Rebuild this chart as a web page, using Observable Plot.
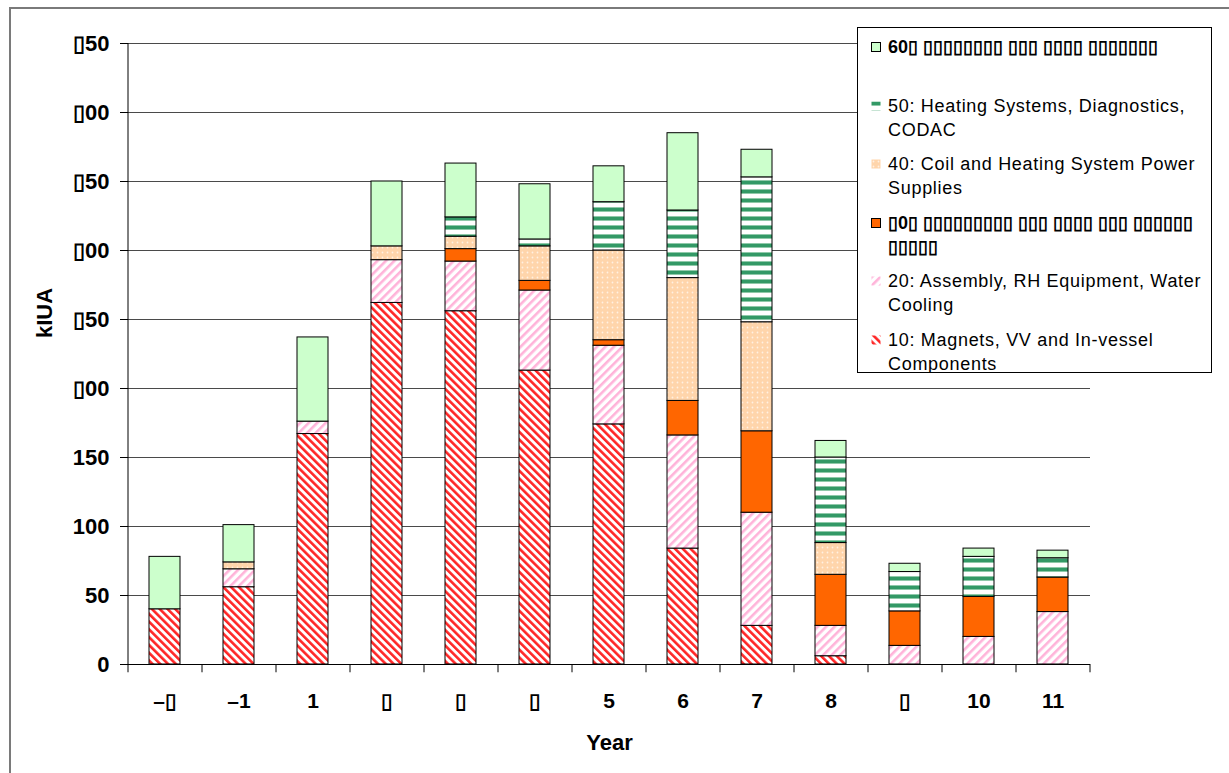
<!DOCTYPE html>
<html>
<head>
<meta charset="utf-8">
<script src="https://cdn.jsdelivr.net/npm/d3@7"></script>
<script src="https://cdn.jsdelivr.net/npm/@observablehq/plot@0.6"></script>
<style>
  html, body { margin: 0; padding: 0; background: #fff; overflow: hidden; }
  #wrap { position: relative; width: 1229px; height: 773px; overflow: hidden; font-family: "Liberation Sans", Arial, sans-serif; }
  #chart { position: absolute; left: 0; top: 0; }
  #border { position: absolute; left: 9px; top: 7px; width: 1300px; height: 900px; border: 2px solid #7a7a7a; pointer-events: none; box-sizing: border-box; }
  #legend { position: absolute; left: 857px; top: 27px; width: 355px; height: 346px; border: 1px solid #000; background: #fff; box-sizing: border-box; overflow: hidden; }
  .item { position: absolute; left: 0; width: 400px; font-size: 18px; line-height: 24px; color: #000; white-space: pre; }
  .item .txt { position: absolute; left: 30px; top: 0; letter-spacing: 0.7px; }
  .item svg { position: absolute; left: 13px; top: 7px; }
  .bold { font-weight: bold; letter-spacing: 0 !important; }
</style>
</head>
<body>
<div id="wrap">
  <div id="chart"></div>
  <div id="legend"></div>
  <div id="border"></div>
</div>
<script>
// ---- data ----
const years = ["-2", "-1", "1", "2", "3", "4", "5", "6", "7", "8", "9", "10", "11"];
const yearLabels = ["–▯", "–1", "1", "▯", "▯", "▯", "5", "6", "7", "8", "▯", "10", "11"];
const yTicks = [0, 50, 100, 150, 200, 250, 300, 350, 400, 450];
const yTickLabels = ["0", "50", "100", "150", "▯00", "▯50", "▯00", "▯50", "▯00", "▯50"];

const seriesKeys = ["10", "20", "30", "40", "50", "60"];
const s10 = [40, 56, 167, 262, 256, 213, 174, 84, 28, 6, 0, 0, 0];
const s20 = [0, 13, 9, 31, 36, 58, 57, 82, 82, 22, 13.5, 20, 38];
const s30 = [0, 0, 0, 0, 9, 7, 4, 25, 59, 37, 25, 29, 25];
const s40 = [0, 5, 0, 10, 9, 25, 65, 89, 79, 23, 0, 0, 0];
const s50 = [0, 0, 0, 0, 14, 5, 35, 49, 105, 62, 28.5, 29, 14];
const s60 = [38, 27, 61, 47, 39, 40, 26, 56, 20, 12, 6, 6, 5.5];
const seriesValues = [s10, s20, s30, s40, s50, s60];

const legendLabels = [
  "10: Magnets, VV and In-vessel\nComponents",
  "20: Assembly, RH Equipment, Water\nCooling",
  "▯0▯ ▯▯▯▯▯▯▯▯▯ ▯▯▯ ▯▯▯▯ ▯▯▯ ▯▯▯▯▯▯\n▯▯▯▯▯",
  "40: Coil and Heating System Power\nSupplies",
  "50: Heating Systems, Diagnostics,\nCODAC",
  "60▯ ▯▯▯▯▯▯▯▯ ▯▯▯ ▯▯▯▯ ▯▯▯▯▯▯▯"
];
const legendBold = [false, false, true, false, false, true];

// ---- styles (patterns) ----
const patternUrls = seriesKeys.map(k => `url(#p${k})`);
const defs = `
<defs>
  <pattern id="p10" patternUnits="userSpaceOnUse" width="5.5" height="5.5" patternTransform="rotate(-45)">
    <rect width="5.5" height="5.5" fill="#fff"/><rect width="2.6" height="5.5" fill="#ff2626"/>
  </pattern>
  <pattern id="p20" patternUnits="userSpaceOnUse" width="6" height="6" patternTransform="rotate(45)">
    <rect width="6" height="6" fill="#fff"/><rect width="2.6" height="6" fill="#ffb3d9"/>
  </pattern>
  <pattern id="p30" patternUnits="userSpaceOnUse" width="4" height="4">
    <rect width="4" height="4" fill="#ff6600"/>
  </pattern>
  <pattern id="p40" patternUnits="userSpaceOnUse" width="5" height="5">
    <rect width="5" height="5" fill="#ffd5ab"/><circle cx="2.5" cy="2.5" r="0.9" fill="#fff1e2"/>
  </pattern>
  <pattern id="p50" patternUnits="userSpaceOnUse" width="9" height="9">
    <rect width="9" height="9" fill="#fff"/>
    <rect y="0" width="9" height="1" fill="#8fc9a9"/>
    <rect y="1" width="9" height="3" fill="#339966"/>
    <rect y="4" width="9" height="1" fill="#8fc9a9"/>
  </pattern>
  <pattern id="p60" patternUnits="userSpaceOnUse" width="4" height="4">
    <rect width="4" height="4" fill="#ccffcc"/>
  </pattern>
</defs>`;

// ---- table ----
const data = years.flatMap((y, i) =>
  seriesKeys.map((k, j) => ({year: y, series: k, value: seriesValues[j][i]}))
).filter(d => d.value > 0);

const halfStep = 37;

const plot = Plot.plot({
  width: 1229,
  height: 773,
  marginLeft: 128,
  marginRight: 139,
  marginTop: 43,
  marginBottom: 109,
  style: {fontFamily: "'Liberation Sans', Arial, sans-serif", fontSize: "21px", fontWeight: "bold", color: "#000", background: "transparent"},
  x: {domain: years, paddingInner: 0.58, paddingOuter: 0.29, axis: null},
  y: {domain: [0, 450], axis: null},
  color: {type: "ordinal", domain: seriesKeys, range: patternUrls},
  marks: [
    Plot.ruleY(yTicks.slice(1), {stroke: "#4a4a4a", strokeWidth: 1}),
    Plot.barY(data, {x: "year", y: "value", fill: "series", stroke: "#000", strokeWidth: 1}),
    Plot.ruleY([0], {stroke: "#000", strokeWidth: 1}),
    Plot.ruleX(years, {x: d => d, dx: -halfStep, y1: -6, y2: d => d === years[0] ? 450 : 0, stroke: "#000", strokeWidth: 1}),
    Plot.ruleX([years[years.length - 1]], {x: d => d, dx: halfStep, y1: -6, y2: 0, stroke: "#000", strokeWidth: 1}),
    Plot.axisY(yTicks, {tickSize: 8, tickPadding: 11, tickFormat: d => yTickLabels[yTicks.indexOf(d)], label: null, fontSize: 22, fontWeight: "bold"}),
    Plot.axisX(years, {tickSize: 0, tickPadding: 29, tickFormat: d => yearLabels[years.indexOf(d)], label: null, fontSize: 21, fontWeight: "bold"}),
    Plot.text(["Year"], {text: d => d, frameAnchor: "bottom", dy: 85, fontSize: 22, fontWeight: "bold"}),
    Plot.text(["kIUA"], {text: d => d, frameAnchor: "left", dx: -84, dy: -16, rotate: -90, fontSize: 22, fontWeight: "bold"})
  ]
});
plot.insertAdjacentHTML("afterbegin", defs);
document.getElementById("chart").appendChild(plot);

// ---- legend ----
const legend = document.getElementById("legend");
const order = [5, 4, 3, 2, 1, 0];
order.forEach((j, row) => {
  const item = document.createElement("div");
  item.className = "item";
  item.style.top = (7 + row * 58.5) + "px";
  const solid = (seriesKeys[j] === "30" || seriesKeys[j] === "60");
  item.innerHTML =
    `<svg width="11" height="11"><rect x="0.5" y="0.5" width="9" height="9" fill="${patternUrls[j]}" ${solid ? 'stroke="#000" stroke-width="1"' : ''}/></svg>` +
    `<div class="txt${legendBold[j] ? " bold" : ""}"></div>`;
  item.querySelector(".txt").textContent = legendLabels[j];
  legend.appendChild(item);
});
</script>
</body>
</html>
